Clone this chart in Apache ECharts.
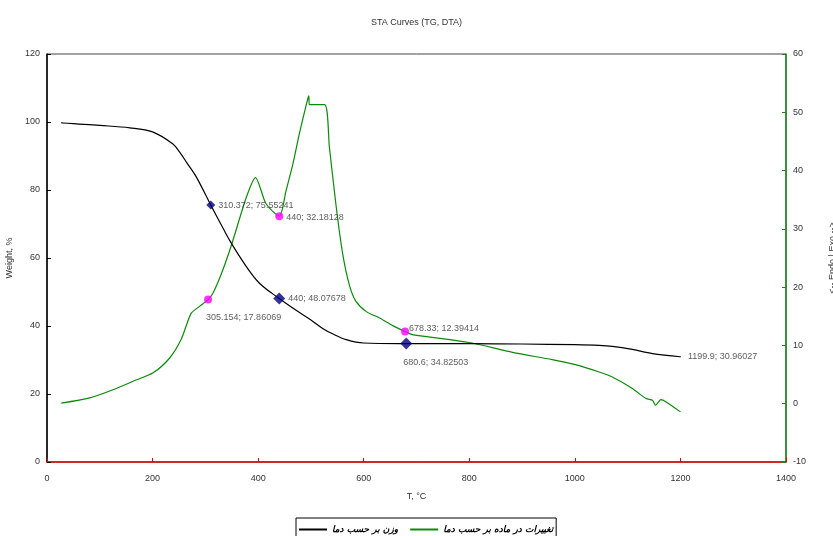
<!DOCTYPE html>
<html><head><meta charset="utf-8">
<script src="https://cdn.jsdelivr.net/npm/echarts@6/dist/echarts.min.js"></script>
<style>html,body{margin:0;padding:0;background:#fff}#c{width:833px;height:536px}</style>
</head><body><div id="c"></div>
<script>
const xTicks = [0, 200, 400, 600, 800, 1000, 1200, 1400];
const tgT = [27, 30, 60, 100, 157, 200, 238, 251, 265, 283, 310.372, 330, 346, 378, 403, 440, 472, 500, 523, 541, 567, 600, 680.6, 800, 900, 1000, 1046, 1071, 1109, 1147, 1199.9];
const tgW = [99.8, 99.7, 99.4, 99.0, 98.3, 97.1, 93.6, 91.2, 88.0, 83.8, 75.55241, 69.8, 65.2, 57.4, 52.5, 48.07678, 44.6, 41.8, 39.2, 37.7, 36.0, 35.0, 34.82503, 34.8, 34.7, 34.5, 34.3, 34.0, 33.1, 31.9, 30.96027];
const dtaT = [27, 81, 125, 163, 201, 232, 254, 273, 289, 305.154, 314, 330, 349, 378, 395, 415, 440, 453, 466, 478, 494, 496, 497, 526, 535, 548, 560, 573, 585, 605, 630, 655, 678.33, 692, 800, 882, 957, 1001, 1046, 1071, 1109, 1135, 1147, 1153, 1163, 1173, 1200];
const dtaD = [0.1, 1.0, 2.4, 3.85, 5.3, 7.8, 11.0, 15.5, 16.7, 17.86069, 18.9, 22.2, 27.1, 35.5, 38.8, 34.3, 32.18128, 36.6, 41.2, 46.3, 52.3, 52.8, 51.3, 51.3, 44.0, 33.7, 25.8, 20.3, 17.6, 15.8, 14.7, 13.4, 12.39414, 11.86, 10.5, 8.8, 7.57, 6.7, 5.44, 4.58, 2.6, 0.88, 0.6, -0.27, 0.7, 0.3, -1.4];
const tgMarkT = [310.372, 440, 680.6];
const tgMarkW = [75.55241, 48.07678, 34.82503];
const tgMarkSize = [9, 12, 12];
const dtaMarkT = [305.154, 440, 678.33];
const dtaMarkD = [17.86069, 32.18128, 12.39414];
const endT = [1199.9];
const endW = [30.96027];
const seriesNames = ['وزن بر حسب دما', 'تغییرات در ماده بر حسب دما'];

const FONT = 'Liberation Sans';
const lab = {fontFamily: FONT, fontSize: 9, color: '#333'};
const fmt = (t, v) => t + '; ' + v;

const tgLine = tgT.map((t, i) => [t, tgW[i]]);
const dtaLine = dtaT.map((t, i) => [t, dtaD[i]]);
const tgLabelCfg = [
  {position: 'right', distance: 3},
  {position: 'right', distance: 3},
  {position: 'bottom', align: 'left', distance: 8, offset: [-3, 0]}
];
const dtaLabelCfg = [
  {position: 'bottom', align: 'left', distance: 9, offset: [-2, 0]},
  {position: 'right', distance: 3, offset: [0, 1]},
  {position: 'right', distance: 0, offset: [0, -3]}
];
const tgMarks = tgMarkT.map((t, i) => ({value: [t, tgMarkW[i]], symbolSize: tgMarkSize[i],
  label: {show: true, ...tgLabelCfg[i], formatter: fmt(t, tgMarkW[i]), ...lab}}));
const dtaMarks = dtaMarkT.map((t, i) => ({value: [t, dtaMarkD[i]],
  label: {show: true, ...dtaLabelCfg[i], formatter: fmt(t, dtaMarkD[i]), ...lab}}));
const endMarks = endT.map((t, i) => ({value: [t, endW[i]],
  label: {show: true, position: 'right', distance: 7, formatter: fmt(t, endW[i]), ...lab}}));

const chart = echarts.init(document.getElementById('c'), null, {renderer: 'canvas'});
chart.setOption({
  animation: false,
  backgroundColor: '#fff',
  title: {text: 'STA Curves (TG, DTA)', left: 'center', top: 13,
    textStyle: {fontFamily: FONT, fontSize: 9, fontWeight: 'normal', color: '#333'}},
  grid: {left: 47, right: 47, top: 54, bottom: 74, containLabel: false, outerBoundsMode: 'none',
    show: true, borderColor: '#444', borderWidth: 1, backgroundColor: 'transparent'},
  legend: {
    data: seriesNames, left: 296, top: 518, itemWidth: 28, itemHeight: 2, itemGap: 12,
    padding: [7, 3, 6, 3], borderColor: '#000', borderWidth: 1, borderRadius: 0,
    textStyle: {fontFamily: 'DejaVu Sans', fontSize: 9, fontWeight: 'bold', fontStyle: 'italic', color: '#000'},
    icon: 'rect'
  },
  xAxis: {
    type: 'value', min: 0, max: 1400, interval: 200,
    name: 'T, °C', nameLocation: 'middle', nameGap: 30,
    nameTextStyle: {fontFamily: FONT, fontSize: 9, color: '#333'},
    axisLine: {lineStyle: {color: '#e00000', width: 1.5}},
    axisTick: {inside: true, length: 4, lineStyle: {color: '#e00000'}},
    axisLabel: {fontFamily: FONT, fontSize: 9, color: '#333', margin: 12,
      formatter: v => xTicks.includes(v) ? String(v) : ''},
    splitLine: {show: false}
  },
  yAxis: [{
    type: 'value', min: 0, max: 120, interval: 20, position: 'left',
    name: 'Weight, %', nameLocation: 'middle', nameGap: 30, nameRotate: 90,
    nameTextStyle: {fontFamily: FONT, fontSize: 9, color: '#333'},
    axisLine: {show: true, lineStyle: {color: '#000', width: 1.5}},
    axisTick: {show: true, inside: true, length: 4, lineStyle: {color: '#000'}},
    axisLabel: {fontFamily: FONT, fontSize: 9, color: '#333', margin: 7},
    splitLine: {show: false}
  }, {
    type: 'value', min: -10, max: 60, interval: 10, position: 'right',
    name: '<-- Endo | Exo -->', nameLocation: 'middle', nameGap: 42, nameRotate: 90,
    nameTextStyle: {fontFamily: FONT, fontSize: 9, color: '#333'},
    axisLine: {show: true, lineStyle: {color: '#1a8a1a', width: 1.5}},
    axisTick: {show: true, inside: true, length: 4, lineStyle: {color: '#1a8a1a'}},
    axisLabel: {fontFamily: FONT, fontSize: 9, color: '#333', margin: 7},
    splitLine: {show: false}
  }],
  series: [{
    name: seriesNames[0], type: 'line', yAxisIndex: 0, data: tgLine,
    showSymbol: false, symbol: 'none', smooth: 0.35,
    lineStyle: {color: '#000', width: 1.2}, itemStyle: {color: '#000'}, z: 3
  }, {
    name: seriesNames[1], type: 'line', yAxisIndex: 1, data: dtaLine,
    showSymbol: false, symbol: 'none', smooth: 0.25,
    lineStyle: {color: '#0a8a0a', width: 1.2}, itemStyle: {color: '#0a8a0a'}, z: 2
  }, {
    name: 'tgMarks', type: 'scatter', yAxisIndex: 0, data: tgMarks,
    symbol: 'diamond', itemStyle: {color: '#000080'}, z: 5
  }, {
    name: 'dtaMarks', type: 'scatter', yAxisIndex: 1, data: dtaMarks,
    symbol: 'circle', symbolSize: 8, itemStyle: {color: '#ff00ff'}, z: 5
  }, {
    name: 'end', type: 'scatter', yAxisIndex: 0, data: endMarks,
    symbol: 'circle', symbolSize: 1, itemStyle: {color: '#000'}, z: 5
  }]
});
</script></body></html>
